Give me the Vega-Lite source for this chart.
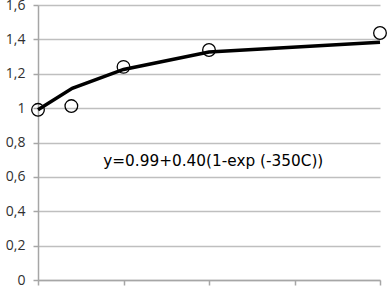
{
  "$schema": "https://vega.github.io/schema/vega-lite/v6.json",
  "width": 342,
  "height": 275,
  "autosize": {"type": "none"},
  "padding": {"left": 38, "top": 5, "right": 8, "bottom": 7},
  "background": "white",
  "config": {"view": {"stroke": null}},
  "datasets": {
    "points": [
      {"c": 0, "y": 0.99},
      {"c": 0.39, "y": 1.012},
      {"c": 1, "y": 1.24},
      {"c": 2, "y": 1.338},
      {"c": 4, "y": 1.437}
    ],
    "fit": [
      {"c": 0, "y": 0.99},
      {"c": 0.4, "y": 1.115},
      {"c": 1, "y": 1.225},
      {"c": 2, "y": 1.327},
      {"c": 4, "y": 1.383}
    ],
    "label": [
      {"c": 2.05, "y": 0.69, "t": "y=0.99+0.40(1-exp (-350C))"}
    ]
  },
  "encoding": {
    "x": {
      "field": "c", "type": "quantitative",
      "scale": {"domain": [0, 4], "nice": false},
      "axis": {
        "title": null, "labels": false, "grid": false,
        "values": [0, 1, 2, 3, 4],
        "domainColor": "#a6a6a6", "domainWidth": 1.5,
        "tickColor": "#a6a6a6", "tickSize": 5, "tickWidth": 1.5
      }
    },
    "y": {
      "field": "y", "type": "quantitative",
      "scale": {"domain": [0, 1.6], "nice": false},
      "axis": {
        "title": null,
        "values": [0, 0.2, 0.4, 0.6, 0.8, 1, 1.2, 1.4, 1.6],
        "labelExpr": "replace(format(datum.value, '.1~f'), '.', ',')",
        "labelFont": "Open Sans", "labelFontSize": 14, "labelColor": "#303030",
        "labelPadding": 8, "labelOverlap": false, "labelFlush": false, "labelBaseline": "middle",
        "grid": true, "gridColor": "#bfbfbf", "gridWidth": 1.5,
        "domainColor": "#a6a6a6", "domainWidth": 1.5,
        "tickColor": "#a6a6a6", "tickSize": 5, "tickWidth": 1.5
      }
    }
  },
  "layer": [
    {
      "data": {"name": "fit"},
      "mark": {"type": "line", "color": "black", "strokeWidth": 3.5}
    },
    {
      "data": {"name": "points"},
      "mark": {"type": "point", "shape": "circle", "size": 160, "filled": false, "stroke": "black", "strokeWidth": 1.3, "fill": null, "opacity": 1}
    },
    {
      "data": {"name": "label"},
      "mark": {"type": "text", "font": "DejaVu Sans", "fontSize": 15.3, "color": "black", "align": "center", "baseline": "middle"},
      "encoding": {
        "text": {"field": "t"}
      }
    }
  ]
}
